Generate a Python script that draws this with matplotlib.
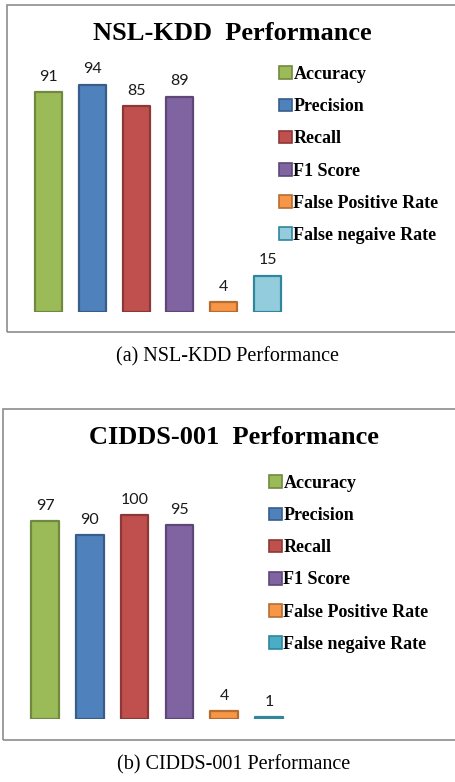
import matplotlib
matplotlib.use("Agg")
import matplotlib.pyplot as plt
from matplotlib.patches import Rectangle, Patch

# data
metrics = ["Accuracy", "Precision", "Recall", "F1 Score",
           "False Positive Rate", "False negaive Rate"]
nsl_vals = [91, 94, 85, 89, 4, 15]
cidds_vals = [97, 90, 100, 95, 4, 1]
fills = ["#9BBB59", "#4F81BD", "#C0504D", "#8064A2", "#F79646", "#93CDDD"]
edges = ["#71893F", "#385D8A", "#8C3836", "#5C4776", "#B66D31", "#31859C"]
fills_b = ["#9BBB59", "#4F81BD", "#C0504D", "#8064A2", "#F79646", "#4BACC6"]

W, H = 456, 782
fig = plt.figure(figsize=(W / 100, H / 100), dpi=100)


def fx(px):
    return px / W


def fy(py):
    return 1 - py / H


def panel(vals, colors, box, ax_px, title, title_xy, leg_xy, caption, cap_xy):
    # outer grey frame
    x0, y0, x1, y1 = box
    fig.patches.append(Rectangle((fx(x0), fy(y1)), fx(x1 - x0), (y1 - y0) / H,
                                 transform=fig.transFigure, fill=False,
                                 edgecolor="#8C8C8C", lw=1.2))
    l, t, r, b = ax_px
    ax = fig.add_axes([fx(l), fy(b), fx(r - l), (b - t) / H])
    xs = range(len(vals))
    ax.bar(xs, vals, width=0.62, color=colors, edgecolor=edges, linewidth=1.6,
           joinstyle="round")
    for x, v in zip(xs, vals):
        ax.annotate(str(v), (x, v), xytext=(0, 6), textcoords="offset points",
                    ha="center", va="bottom", fontsize=11.5, family="Lato",
                    color="#1a1a1a")
    ax.set_xlim(-0.5, 5.5)
    ax.set_ylim(0, 110)
    ax.axis("off")
    fig.text(fx(title_xy[0]), fy(title_xy[1]), title, ha="center", va="center",
             fontsize=19, fontweight="bold", family="Liberation Serif")
    handles = [Patch(facecolor=c, edgecolor=e, lw=1.2) for c, e in zip(colors, edges)]
    fig.legend(handles, metrics, loc="upper left",
               bbox_to_anchor=(fx(leg_xy[0]), fy(leg_xy[1])),
               frameon=False, handlelength=0.7, handleheight=0.7,
               handletextpad=0.1, labelspacing=0.84, borderpad=0, borderaxespad=0,
               prop={"family": "Liberation Serif", "weight": "bold", "size": 13})
    fig.text(fx(cap_xy[0]), fy(cap_xy[1]), caption, ha="center", va="center",
             fontsize=14.5, family="Liberation Serif")


panel(nsl_vals, fills, (7, 5, 470, 332), (26.6, 46, 289.4, 312),
      "NSL-KDD  Performance", (232, 33), (279, 66),
      "(a) NSL-KDD Performance", (228, 357))
panel(cidds_vals, fills_b, (3, 409, 470, 740), (22.6, 494.6, 291.4, 719),
      "CIDDS-001  Performance", (234, 438), (269, 475),
      "(b) CIDDS-001 Performance", (234, 765))

fig.savefig("out.png", dpi=100)
